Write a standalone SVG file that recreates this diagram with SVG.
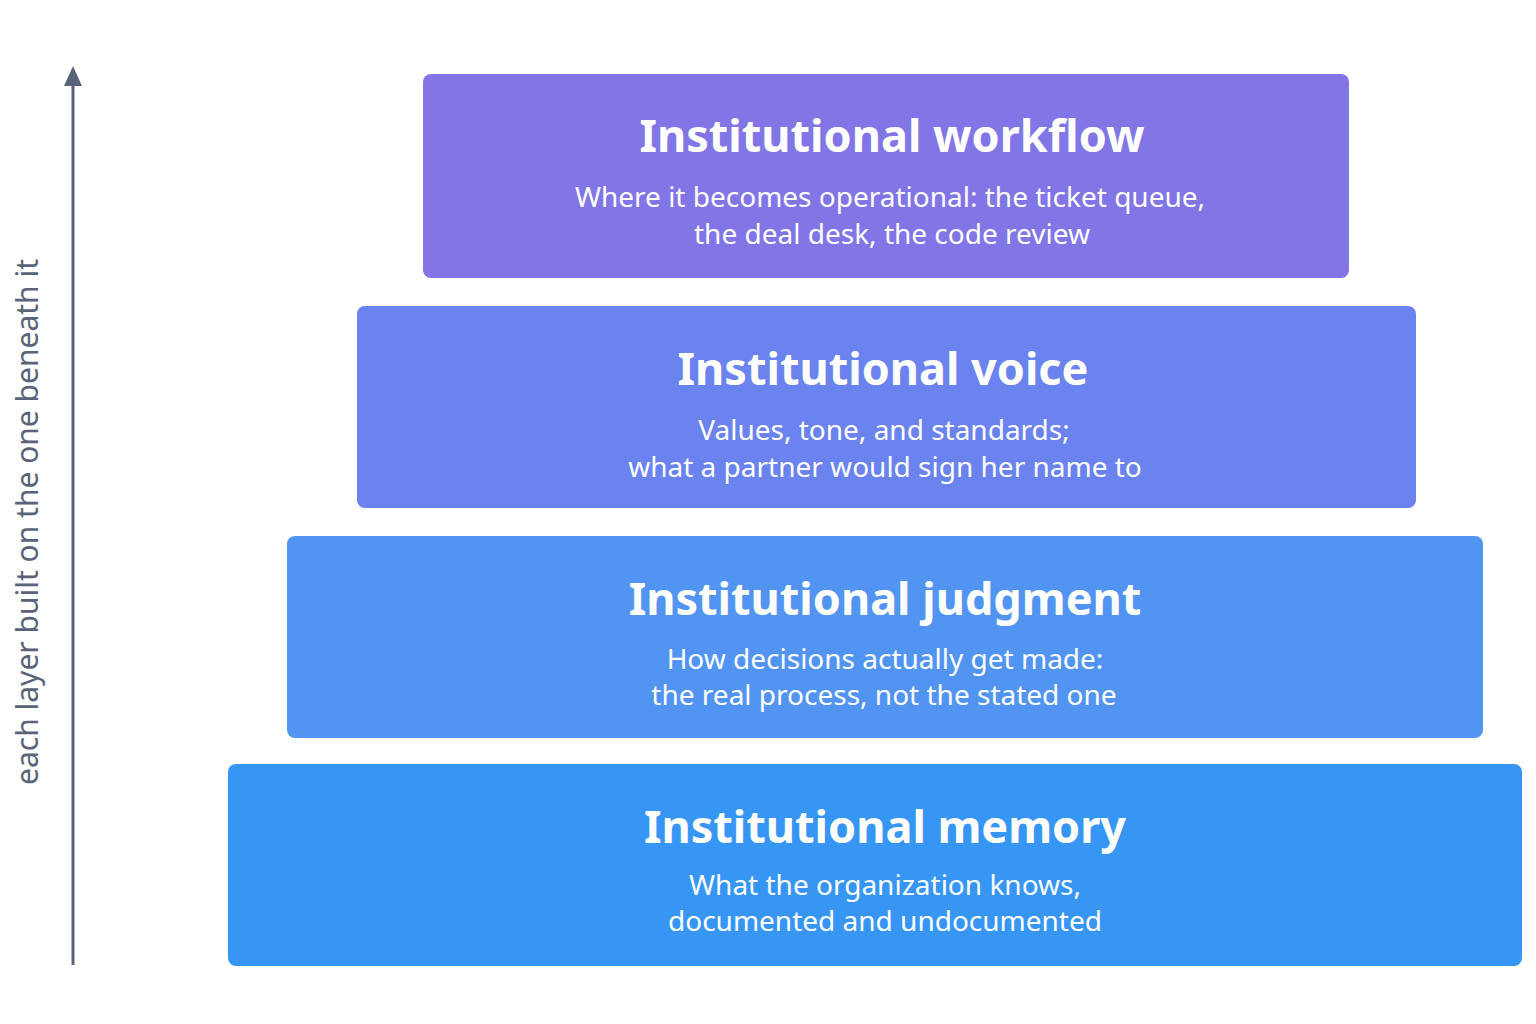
<svg xmlns="http://www.w3.org/2000/svg" width="1536" height="1024" viewBox="0 0 1536 1024">
<style>
.t{font-family:"Noto Sans","Open Sans",sans-serif;font-weight:700;font-size:45px;fill:#fff;text-anchor:middle}
.s{font-family:"Noto Sans","Open Sans",sans-serif;font-size:28px;fill:#fff;text-anchor:middle}
.ax{font-family:"Noto Sans","Open Sans",sans-serif;font-size:30px;fill:#5a6478;text-anchor:middle}
</style>
<defs><marker id="ah" markerWidth="10" markerHeight="12" refX="5" refY="6" orient="auto" markerUnits="userSpaceOnUse"><path d="M0,12 L5,0 L10,12 Z" fill="#5a6478"/></marker></defs>
<rect width="1536" height="1024" fill="#fff"/>
<g id="connectors"><line x1="73" y1="965" x2="73" y2="80" stroke="#5a6478" stroke-width="3"/><path d="M64,86 L73,66 L82,86 Z" fill="#5a6478"/></g>
<text class="ax" transform="translate(38,522) rotate(-90)">each layer built on the one beneath it</text>
<g id="workflow"><rect x="423" y="74" width="926" height="204" rx="8" fill="#8275E6"/>
<text class="t" x="892" y="152">Institutional workflow</text>
<text class="s" x="890" y="207">Where it becomes operational: the ticket queue,</text>
<text class="s" x="892" y="244">the deal desk, the code review</text></g>
<g id="voice"><rect x="357" y="306" width="1059" height="202" rx="8" fill="#6A83EE"/>
<text class="t" x="883" y="385">Institutional voice</text>
<text class="s" x="884" y="440">Values, tone, and standards;</text>
<text class="s" x="885" y="477">what a partner would sign her name to</text></g>
<g id="judgment"><rect x="287" y="536" width="1196" height="202" rx="8" fill="#5294F2"/>
<text class="t" x="885" y="615">Institutional judgment</text>
<text class="s" x="885" y="669">How decisions actually get made:</text>
<text class="s" x="884" y="705">the real process, not the stated one</text></g>
<g id="memory"><rect x="228" y="764" width="1294" height="202" rx="8" fill="#3796F4"/>
<text class="t" x="885" y="843">Institutional memory</text>
<text class="s" x="885" y="895">What the organization knows,</text>
<text class="s" x="885" y="931">documented and undocumented</text></g>
</svg>
